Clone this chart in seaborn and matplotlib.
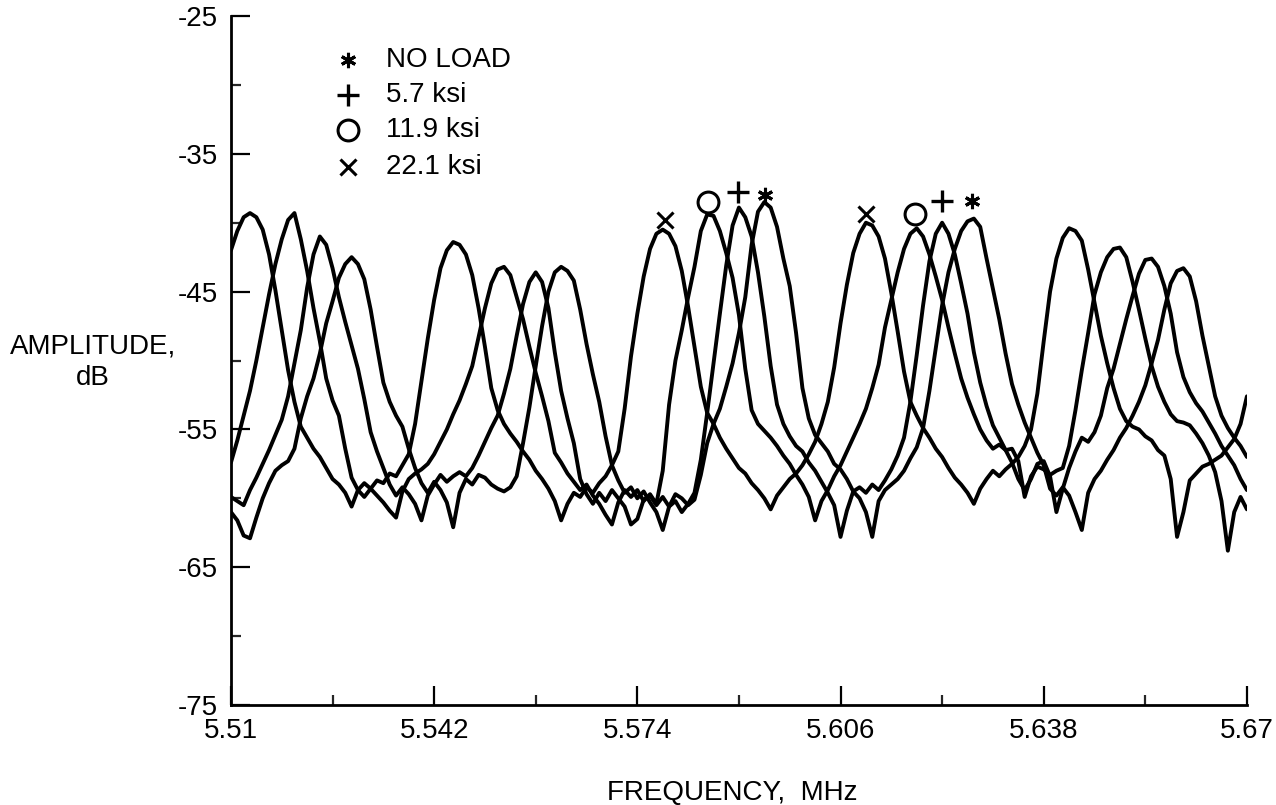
import matplotlib
matplotlib.use("Agg")
import matplotlib.pyplot as plt
import pandas as pd
import seaborn as sns

# frequency grid (MHz), one reading every kHz
freq = [
    5.510, 5.511, 5.512, 5.513, 5.514, 5.515, 5.516, 5.517, 5.518, 5.519,
    5.520, 5.521, 5.522, 5.523, 5.524, 5.525, 5.526, 5.527, 5.528, 5.529,
    5.530, 5.531, 5.532, 5.533, 5.534, 5.535, 5.536, 5.537, 5.538, 5.539,
    5.540, 5.541, 5.542, 5.543, 5.544, 5.545, 5.546, 5.547, 5.548, 5.549,
    5.550, 5.551, 5.552, 5.553, 5.554, 5.555, 5.556, 5.557, 5.558, 5.559,
    5.560, 5.561, 5.562, 5.563, 5.564, 5.565, 5.566, 5.567, 5.568, 5.569,
    5.570, 5.571, 5.572, 5.573, 5.574, 5.575, 5.576, 5.577, 5.578, 5.579,
    5.580, 5.581, 5.582, 5.583, 5.584, 5.585, 5.586, 5.587, 5.588, 5.589,
    5.590, 5.591, 5.592, 5.593, 5.594, 5.595, 5.596, 5.597, 5.598, 5.599,
    5.600, 5.601, 5.602, 5.603, 5.604, 5.605, 5.606, 5.607, 5.608, 5.609,
    5.610, 5.611, 5.612, 5.613, 5.614, 5.615, 5.616, 5.617, 5.618, 5.619,
    5.620, 5.621, 5.622, 5.623, 5.624, 5.625, 5.626, 5.627, 5.628, 5.629,
    5.630, 5.631, 5.632, 5.633, 5.634, 5.635, 5.636, 5.637, 5.638, 5.639,
    5.640, 5.641, 5.642, 5.643, 5.644, 5.645, 5.646, 5.647, 5.648, 5.649,
    5.650, 5.651, 5.652, 5.653, 5.654, 5.655, 5.656, 5.657, 5.658, 5.659,
    5.660, 5.661, 5.662, 5.663, 5.664, 5.665, 5.666, 5.667, 5.668, 5.669,
    5.670,
]

# amplitude (dB)
no_load = [
    -61.0, -61.6, -62.7, -62.9, -61.4, -60.0, -58.9, -58.0, -57.6, -57.3,
    -56.4, -54.2, -52.6, -51.3, -49.5, -47.3, -45.7, -44.0, -43.0, -42.5,
    -43.0, -44.1, -46.3, -49.0, -51.6, -53.0, -54.0, -54.8, -56.4, -57.8,
    -58.9, -59.6, -58.8, -59.4, -60.3, -62.1, -59.6, -58.6, -59.0, -58.3,
    -58.5, -59.0, -59.3, -59.5, -59.2, -58.4, -56.0, -53.4, -50.4, -47.5,
    -45.0, -43.6, -43.2, -43.5, -44.2, -46.3, -48.8, -51.0, -53.0, -55.5,
    -57.6, -58.7, -59.6, -59.2, -60.0, -59.5, -60.3, -61.0, -62.3, -60.6,
    -59.7, -60.0, -60.5, -60.1, -58.3, -56.0, -54.6, -53.5, -51.9, -50.2,
    -48.0, -45.4, -41.6, -39.2, -38.5, -38.9, -40.3, -42.6, -44.6, -48.0,
    -52.0, -54.2, -55.4, -56.0, -56.6, -57.5, -57.9, -58.6, -59.5, -60.0,
    -61.0, -62.8, -60.2, -59.4, -59.0, -58.6, -58.0, -57.1, -56.3, -54.9,
    -52.2, -49.1, -46.0, -43.6, -41.9, -40.6, -39.9, -39.7, -40.3, -42.6,
    -44.8, -47.0, -49.5, -51.7, -53.2, -54.5, -55.6, -56.7, -57.6, -59.3,
    -59.8, -59.2, -59.8, -61.0, -62.3, -59.6, -58.6, -58.0, -57.2, -56.5,
    -55.6, -54.9, -54.0, -53.0, -51.8, -50.2, -48.5, -46.3, -44.4, -43.5,
    -43.3, -43.9, -45.7, -48.2, -50.4, -52.6, -54.0, -54.9, -55.6, -56.2,
    -57.0,
]

ksi_5_7 = [
    -59.9, -60.2, -60.5, -59.4, -58.5, -57.5, -56.5, -55.4, -54.3, -52.6,
    -50.2, -47.8, -44.7, -42.3, -41.0, -41.6, -43.3, -45.4, -47.2, -48.9,
    -50.6, -52.8, -55.2, -56.6, -57.8, -59.0, -59.8, -59.2, -59.7, -60.4,
    -61.6, -59.8, -59.0, -58.3, -58.8, -58.4, -58.1, -58.4, -57.8, -56.9,
    -55.9, -54.9, -54.0, -52.4, -50.6, -48.2, -45.9, -44.3, -43.6, -44.3,
    -46.2, -49.4, -52.2, -54.2, -56.0, -58.6, -59.7, -60.4, -59.6, -60.2,
    -59.4, -60.0, -60.6, -61.9, -61.5, -60.1, -59.8, -60.5, -59.9, -60.6,
    -60.2, -61.0, -60.4, -59.6, -57.2, -53.8, -50.2, -46.6, -43.1, -40.2,
    -38.9, -39.6, -41.0, -43.6, -46.8, -50.4, -53.2, -54.6, -55.5, -56.2,
    -56.6, -57.4, -58.0, -58.8, -59.6, -60.5, -62.8, -60.9, -59.5, -59.2,
    -59.6, -59.0, -59.4, -58.7, -57.9, -56.9, -55.6, -53.0, -49.6, -46.0,
    -42.8, -40.8, -40.0, -40.8, -42.3, -44.4, -46.6, -49.4, -51.6, -53.3,
    -54.7, -55.6, -56.5, -57.4, -58.6, -59.4, -58.6, -57.5, -57.3, -58.4,
    -61.0, -59.3, -57.8, -56.6, -55.6, -55.9, -55.2, -54.0, -52.0, -50.6,
    -48.8, -47.0, -45.3, -43.7, -42.7, -42.6, -43.2, -44.6, -46.6, -49.4,
    -51.2, -52.3, -53.1, -53.7, -54.5, -55.3, -56.2, -56.9, -57.6, -58.6,
    -59.4,
]

ksi_11_9 = [
    -57.4, -55.8, -54.0, -52.2, -50.0, -47.6, -45.2, -43.0, -41.2, -39.8,
    -39.3, -41.2, -43.5, -46.2, -48.6, -51.3, -52.9, -54.0, -56.4, -58.5,
    -59.4, -59.9, -59.3, -59.8, -60.3, -60.9, -61.4, -59.5, -58.6, -58.2,
    -57.9, -57.5, -56.8, -55.9, -55.0, -53.9, -52.9, -51.7, -50.4, -48.3,
    -46.2, -44.4, -43.4, -43.2, -43.8, -45.4, -47.0, -49.0, -50.9, -52.6,
    -54.4, -56.7, -57.4, -58.2, -58.8, -59.4, -59.0, -59.8, -60.4, -61.2,
    -61.9, -60.3, -59.4, -59.9, -59.4, -60.2, -59.7, -60.4, -58.0, -53.2,
    -50.0, -47.8, -45.4, -43.2, -40.6, -39.4, -39.5, -40.6, -42.2, -44.0,
    -46.7, -50.6, -53.6, -54.6, -55.1, -55.6, -56.2, -56.9, -57.5, -58.3,
    -59.0, -59.9, -61.6, -60.2, -59.4, -58.4, -57.6, -56.6, -55.6, -54.6,
    -53.5, -52.0, -50.3, -47.6, -45.6, -43.6, -41.9, -40.8, -40.4, -41.0,
    -42.3, -43.9, -45.6, -47.6, -49.5, -51.3, -52.7, -53.9, -55.0, -55.8,
    -56.4, -56.1, -56.5, -56.4, -57.3, -59.9, -58.4, -57.7, -57.9, -58.3,
    -58.0, -57.8, -56.2, -53.6, -50.7, -48.0, -45.2, -43.6, -42.5, -41.9,
    -41.8, -42.5, -44.3, -46.3, -48.4, -50.4, -51.9, -53.0, -53.9, -54.4,
    -54.5, -54.7, -55.3, -56.0, -56.9, -58.1, -60.2, -63.8, -61.0, -59.9,
    -60.8,
]

ksi_22_1 = [
    -42.0, -40.6, -39.6, -39.3, -39.6, -40.5, -42.3, -44.9, -47.8, -50.7,
    -53.0, -54.8, -55.6, -56.4, -57.0, -57.8, -58.6, -59.0, -59.6, -60.6,
    -59.4, -58.9, -59.3, -58.7, -58.9, -58.2, -58.4, -57.6, -56.8, -54.6,
    -51.5, -48.4, -45.6, -43.3, -42.0, -41.4, -41.6, -42.3, -43.8, -46.2,
    -49.0, -52.0, -53.6, -54.6, -55.3, -55.9, -56.6, -57.2, -58.0, -58.6,
    -59.3, -60.2, -61.6, -60.4, -59.6, -59.9, -59.2, -59.6, -58.9, -58.4,
    -57.6, -56.6, -53.5, -49.7, -46.6, -43.9, -41.9, -40.8, -40.5, -40.8,
    -41.7, -43.5, -46.1, -49.0, -51.9, -53.8, -54.6, -55.6, -56.4, -57.1,
    -57.8, -58.2, -58.9, -59.4, -60.0, -60.8, -59.8, -59.2, -58.6, -58.2,
    -57.6, -56.8, -55.9, -54.6, -53.0, -50.5, -47.3, -44.5, -42.2, -40.8,
    -40.0, -40.2, -41.0, -42.6, -45.1, -47.9, -50.8, -53.0, -54.0, -54.9,
    -55.6, -56.4, -57.0, -57.8, -58.5, -59.0, -59.6, -60.4, -59.3, -58.6,
    -58.0, -58.4, -57.9, -57.5, -57.0, -56.2, -55.0, -52.4, -48.6, -45.0,
    -42.6, -41.1, -40.4, -40.6, -41.3, -43.4, -45.8, -48.2, -50.2, -52.0,
    -53.5, -54.4, -54.8, -55.0, -55.5, -55.8, -56.5, -56.9, -58.6, -62.8,
    -61.0, -58.7, -58.2, -57.7, -57.5, -57.2, -56.9, -56.3, -55.7, -54.6,
    -52.6,
]

load_labels = ["NO LOAD", "5.7 ksi", "11.9 ksi", "22.1 ksi"]

# symbols written above two of the peaks of each trace
mark_freq_no_load = [5.5941, 5.6267]
mark_db_no_load = [-38.0, -38.4]
mark_freq_5_7 = [5.5898, 5.6220]
mark_db_5_7 = [-37.8, -38.4]
mark_freq_11_9 = [5.5851, 5.6177]
mark_db_11_9 = [-38.5, -39.4]
mark_freq_22_1 = [5.5783, 5.6100]
mark_db_22_1 = [-39.8, -39.4]

x_major = [5.51, 5.542, 5.574, 5.606, 5.638, 5.67]
x_labels = ["5.51", "5.542", "5.574", "5.606", "5.638", "5.67"]
x_minor = [5.526, 5.558, 5.590, 5.622, 5.654]
y_major = [-75, -65, -55, -45, -35, -25]
y_labels = ["-75", "-65", "-55", "-45", "-35", "-25"]
y_minor = [-70, -60, -50, -40, -30]

sns.set_theme(style="ticks")
plt.rcParams["font.family"] = ["Liberation Sans", "DejaVu Sans"]
plt.rcParams["axes.unicode_minus"] = False

df = pd.DataFrame({
    "freq": freq * 4,
    "db": no_load + ksi_5_7 + ksi_11_9 + ksi_22_1,
    "load": sum([[lab] * len(freq) for lab in load_labels], []),
})

fig = plt.figure(figsize=(12.76, 8.05), dpi=100)
ax = fig.add_axes([0.181, 0.1242, 0.7962, 0.8559])

sns.lineplot(data=df, x="freq", y="db", units="load", estimator=None,
             color="black", linewidth=2.8, legend=False, ax=ax)

# peak symbols
mk = dict(color="black", linestyle="none", clip_on=False)
ax.plot(mark_freq_no_load, mark_db_no_load, marker=(6, 2, 0), markersize=11, mew=2.2, **mk)
ax.plot(mark_freq_5_7, mark_db_5_7, marker="+", markersize=16, mew=2.4, **mk)
ax.plot(mark_freq_11_9, mark_db_11_9, marker="o", markersize=15, mew=2.2, mfc="none", **mk)
ax.plot(mark_freq_22_1, mark_db_22_1, marker="x", markersize=11, mew=2.2, **mk)

# key in the upper left
key_markers = [dict(marker=(6, 2, 0), markersize=11, mew=2.2),
               dict(marker="+", markersize=16, mew=2.4),
               dict(marker="o", markersize=15, mew=2.2, mfc="none"),
               dict(marker="x", markersize=11, mew=2.2)]
key_y = [0.936, 0.885, 0.8345, 0.781]
for lab, kw, yy in zip(load_labels, key_markers, key_y):
    ax.plot([0.115], [yy], transform=ax.transAxes, color="black",
            linestyle="none", **kw)
    ax.text(0.153, yy, lab, transform=ax.transAxes, fontsize=20,
            va="center", ha="left", color="black")

ax.set_xlim(5.51, 5.67)
ax.set_ylim(-75, -25)
ax.set_xticks(x_major)
ax.set_xticklabels(x_labels)
ax.set_xticks(x_minor, minor=True)
ax.set_yticks(y_major)
ax.set_yticklabels(y_labels)
ax.set_yticks(y_minor, minor=True)

ax.tick_params(which="major", direction="in", length=14, width=1.6,
               labelsize=20, colors="black", pad=9.5)
ax.tick_params(which="minor", direction="in", length=7, width=1.6)

for side in ["top", "right"]:
    ax.spines[side].set_visible(False)
for side in ["left", "bottom"]:
    ax.spines[side].set_linewidth(2.0)
    ax.spines[side].set_color("black")

ax.set_xlabel("")
ax.set_ylabel("")
fig.text(732 / 1276, 1 - 800 / 805, "FREQUENCY,  MHz", fontsize=20,
         ha="center", va="baseline", color="black")
fig.text(93 / 1276, 1 - 353 / 805, "AMPLITUDE,", fontsize=20,
         ha="center", va="baseline", color="black")
fig.text(93 / 1276, 1 - 385 / 805, "dB", fontsize=20,
         ha="center", va="baseline", color="black")

fig.savefig("out.png", dpi=100)
